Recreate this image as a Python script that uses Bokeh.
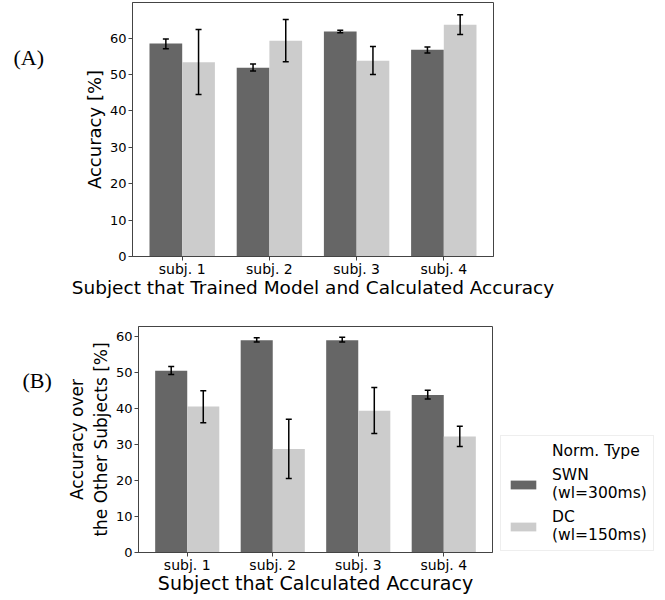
from bokeh.plotting import figure
from bokeh.models import (ColumnDataSource, FactorRange, Range1d, FixedTicker, Whisker,
                          TeeHead, Label, Legend, LegendItem)
from bokeh.layouts import column, row
from bokeh.transform import dodge
from bokeh.embed import file_html
from bokeh.resources import INLINE

# ---------------- data ----------------
subjects = ["subj. 1", "subj. 2", "subj. 3", "subj. 4"]
series_labels = ["SWN\n(wl=300ms)", "DC\n(wl=150ms)"]
legend_title = "Norm. Type"

# (A) accuracy of model trained & evaluated on same subject
a_swn = [58.5, 51.9, 61.8, 56.8]
a_swn_lo = [57.1, 51.0, 61.5, 55.9]
a_swn_hi = [59.8, 52.9, 62.2, 57.6]
a_dc = [53.4, 59.3, 53.8, 63.7]
a_dc_lo = [44.5, 53.5, 50.0, 61.0]
a_dc_hi = [62.4, 65.1, 57.7, 66.4]

# (B) accuracy over the other subjects
b_swn = [50.4, 58.9, 58.9, 43.7]
b_swn_lo = [49.4, 58.4, 58.4, 42.6]
b_swn_hi = [51.6, 59.6, 59.7, 45.0]
b_dc = [40.5, 28.7, 39.3, 32.2]
b_dc_lo = [36.0, 20.5, 33.0, 29.4]
b_dc_hi = [44.9, 37.0, 45.8, 35.0]

yticks = [0, 10, 20, 30, 40, 50, 60]

# ---------------- style ----------------
C_SWN = "#666666"
C_DC = "#cccccc"
FRAME = "#444444"
FONT = "DejaVu Sans"
BAR_W = 0.375
LAB_W = 56


def make_fig(w, h, left, right, top, bottom, ymax, xlabel, ylabel, ylabel_size, xlabel_size,
             xlabel_standoff):
    p = figure(x_range=FactorRange(factors=subjects, range_padding=0.07,
                                   range_padding_units="absolute"),
               y_range=Range1d(0, ymax),
               width=w, height=h,
               min_border_left=left, min_border_right=right,
               min_border_top=top, min_border_bottom=bottom,
               output_backend="svg", toolbar_location=None)
    p.background_fill_color = "white"
    p.border_fill_color = "white"
    p.outline_line_color = FRAME
    p.outline_line_width = 1
    p.xgrid.visible = False
    p.ygrid.visible = False
    for ax in (p.xaxis[0], p.yaxis[0]):
        ax.axis_line_color = FRAME
        ax.major_tick_line_color = FRAME
        ax.major_tick_out = 4
        ax.major_tick_in = 0
        ax.minor_tick_line_color = None
        ax.major_label_text_font = FONT
        ax.major_label_text_color = "black"
        ax.axis_label_text_font = FONT
        ax.axis_label_text_font_style = "normal"
        ax.axis_label_text_color = "black"
        ax.major_label_standoff = 2
        ax.axis_label_standoff = 2
    p.xaxis.major_label_standoff = 0
    p.xaxis.axis_label_standoff = xlabel_standoff
    p.xaxis.major_label_text_font_size = "14px"
    p.yaxis.major_label_text_font_size = "13px"
    p.xaxis.axis_label = xlabel
    p.yaxis.axis_label = ylabel
    p.xaxis.axis_label_text_font_size = xlabel_size
    p.yaxis.axis_label_text_font_size = ylabel_size
    p.yaxis.ticker = FixedTicker(ticks=yticks)
    return p


def add_bars(p, swn, swn_lo, swn_hi, dc, dc_lo, dc_hi):
    src = ColumnDataSource(dict(subj=subjects, swn=swn, swn_lo=swn_lo, swn_hi=swn_hi,
                                dc=dc, dc_lo=dc_lo, dc_hi=dc_hi))
    r1 = p.vbar(x=dodge("subj", -BAR_W / 2, range=p.x_range), top="swn", width=BAR_W,
                source=src, fill_color=C_SWN, line_color=None)
    r2 = p.vbar(x=dodge("subj", BAR_W / 2, range=p.x_range), top="dc", width=BAR_W,
                source=src, fill_color=C_DC, line_color=None)
    for off, lo, hi in ((-BAR_W / 2, "swn_lo", "swn_hi"), (BAR_W / 2, "dc_lo", "dc_hi")):
        w = Whisker(source=src, base=dodge("subj", off, range=p.x_range), upper=hi, lower=lo,
                    dimension="height", line_color="black", line_width=1.5, level="overlay",
                    upper_head=TeeHead(size=6, line_color="black", line_width=1.5),
                    lower_head=TeeHead(size=6, line_color="black", line_width=1.5))
        p.add_layout(w)
    return r1, r2


def blank_fig(w, h):
    f = figure(width=w, height=h, x_range=Range1d(0, 1), y_range=Range1d(0, 1),
               min_border=0, x_axis_location=None, y_axis_location=None,
               output_backend="svg", toolbar_location=None)
    f.grid.visible = False
    f.outline_line_color = None
    f.background_fill_color = "white"
    f.border_fill_color = "white"
    return f


def label_fig(h, text, x, yfrac):
    # panel letter, placed at a fraction of the neighbouring frame height
    f = blank_fig(LAB_W, h)
    f.add_layout(Label(x=x, y=yfrac, x_units="screen", y_units="data", text=text,
                       text_font="Liberation Serif", text_font_size="22px",
                       text_baseline="middle", text_align="left", text_color="black"))
    return f


H1, H2 = 303, 297

# ---------------- (A) ----------------
p1 = make_fig(76 + 361 + 170, H1, 76, 170, 2, 47, 69.8,
              "Subject that Trained Model and Calculated Accuracy", "Accuracy [%]",
              "18px", "18.5px", -3)
add_bars(p1, a_swn, a_swn_lo, a_swn_hi, a_dc, a_dc_lo, a_dc_hi)
la = label_fig(H1, "(A)", 13, 0.783)

# ---------------- (B) ----------------
p2 = make_fig(82 + 354 + 6, H2, 82, 6, 23, 48, 62.7,
              "Subject that Calculated Accuracy", "Accuracy over\nthe Other Subjects [%]",
              "17px", "19px", -4)
r1, r2 = add_bars(p2, b_swn, b_swn_lo, b_swn_hi, b_dc, b_dc_lo, b_dc_hi)
lb = label_fig(H2, "(B)", 22, 0.76)

# legend panel (proxies reuse the bar colours; they are not drawn)
lg = blank_fig(165, H2)
px1 = lg.vbar(x=[0.5], top=[0.5], width=0.1, fill_color=C_SWN, line_color=None, visible=False)
px2 = lg.vbar(x=[0.5], top=[0.5], width=0.1, fill_color=C_DC, line_color=None, visible=False)
px0 = lg.vbar(x=[0.5], top=[0.5], width=0.1, fill_alpha=0, line_alpha=0, visible=False)
legend = Legend(items=[LegendItem(label=legend_title, renderers=[px0]),
                       LegendItem(label=series_labels[0], renderers=[px1]),
                       LegendItem(label=series_labels[1], renderers=[px2])],
                location=(2, 1), orientation="vertical")
legend.label_text_font = FONT
legend.label_text_font_size = "15.5px"
legend.label_text_color = "black"
legend.glyph_width = 32
legend.glyph_height = 11
legend.label_standoff = 13
legend.padding = 6
legend.spacing = 6
legend.margin = 0
legend.border_line_color = "#dddddd"
legend.border_line_width = 1
legend.background_fill_color = "white"
legend.background_fill_alpha = 0.8
lg.add_layout(legend)

layout = column(row(la, p1), row(lb, p2, lg))
open("out.html", "w").write(file_html(layout, INLINE))
